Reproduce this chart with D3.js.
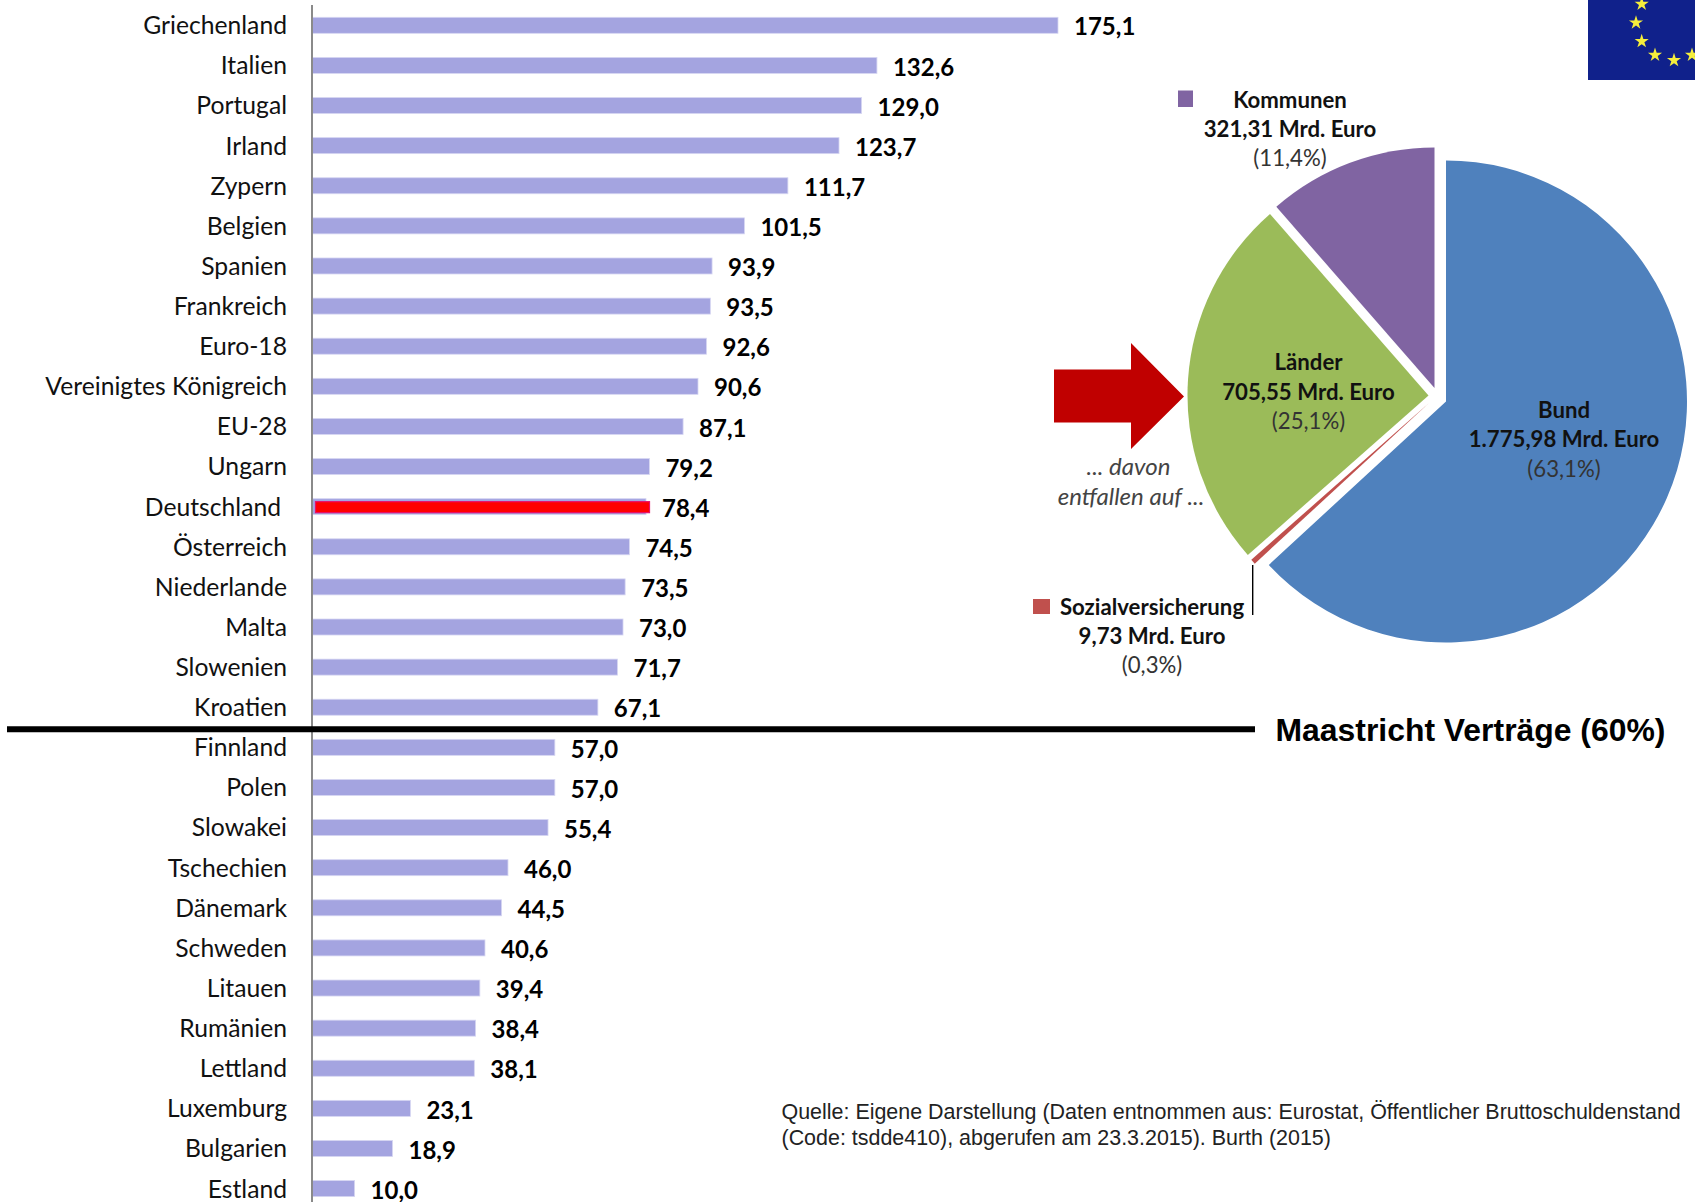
<!DOCTYPE html>
<html lang="de"><head><meta charset="utf-8">
<script src="https://cdn.jsdelivr.net/npm/d3@7"></script>
<style>html,body{margin:0;padding:0;background:#fff;overflow:hidden}svg{display:block}</style>
</head><body><div id="c"></div>
<script>
const countries=["Griechenland","Italien","Portugal","Irland","Zypern","Belgien","Spanien","Frankreich","Euro-18","Vereinigtes Königreich","EU-28","Ungarn","Deutschland","Österreich","Niederlande","Malta","Slowenien","Kroatien","Finnland","Polen","Slowakei","Tschechien","Dänemark","Schweden","Litauen","Rumänien","Lettland","Luxemburg","Bulgarien","Estland"];
const debt=[175.1,132.6,129.0,123.7,111.7,101.5,93.9,93.5,92.6,90.6,87.1,79.2,78.4,74.5,73.5,73.0,71.7,67.1,57.0,57.0,55.4,46.0,44.5,40.6,39.4,38.4,38.1,23.1,18.9,10.0];
const highlight="Deutschland";
const pieNames=["Bund","Sozialversicherung","Länder","Kommunen"];
const pieValues=[1775.98,9.73,705.55,321.31];
const pieColors=["#4f81bd","#c0504d","#9bbb59","#8064a2"];
const pieCentres=[[1446,401.5],[1429,403],[1428.5,395.5],[1434.5,388]];
const pieRadii=[241,237,241,240.5];
const maastricht="Maastricht Verträge (60%)";
const sourceLines=["Quelle: Eigene Darstellung (Daten entnommen aus: Eurostat, Öffentlicher Bruttoschuldenstand","(Code: tsdde410), abgerufen am 23.3.2015). Burth (2015)"];

const W=1695,H=1202;
const svg=d3.select("#c").append("svg").attr("width",W).attr("height",H).attr("viewBox",[0,0,W,H]);
const sans="Lato, Carlito, Calibri, sans-serif";
const x=d3.scaleLinear().domain([0,175.1]).range([312,1058]);
const y=d3.scalePoint().domain(countries).range([25.3,1188.6]);
const fmt=d3.formatLocale({decimal:",",thousands:".",grouping:[3],currency:["","€"]}).format(".1f");
const barH=16;

// Bars
svg.append("g").selectAll("rect").data(countries).join("rect")
  .attr("x",x(0)).attr("y",d=>y(d)-barH/2)
  .attr("width",(d,i)=>x(debt[i])-x(0)).attr("height",barH)
  .attr("fill","#a4a4e0").attr("stroke","#d6d6f2").attr("stroke-width",0.8);

// Highlight over Germany
const hi=countries.indexOf(highlight);
svg.append("rect").attr("x",x(0)+3.5).attr("y",y(highlight)-5)
  .attr("width",x(debt[hi])-x(0)).attr("height",11)
  .attr("fill","#ff0000").attr("stroke","#e8106a").attr("stroke-width",1.2);

// Category axis
const axis=svg.append("g").attr("transform",`translate(${x(0)},0)`)
  .call(d3.axisLeft(y).tickSize(0).tickPadding(25));
axis.select(".domain").remove();
axis.selectAll("text").attr("font-family",sans).attr("font-size",24.7).attr("fill","#111")
  .attr("dy","0.34em").attr("dx",d=>d===highlight?-6:0);
svg.append("line").attr("x1",x(0)).attr("x2",x(0)).attr("y1",5).attr("y2",H)
  .attr("stroke","#8a8a8a").attr("stroke-width",2);

// Value labels
svg.append("g").selectAll("text").data(countries).join("text")
  .attr("x",(d,i)=>x(debt[i])+16).attr("y",d=>y(d)+2).attr("dy","0.34em")
  .attr("font-family",sans).attr("font-weight",700).attr("font-size",24).attr("fill","#000")
  .text((d,i)=>fmt(debt[i]));

// Threshold line
svg.append("line").attr("x1",7).attr("x2",1255).attr("y1",729.3).attr("y2",729.3)
  .attr("stroke","#000").attr("stroke-width",6);
svg.append("text").attr("x",1275.5).attr("y",741)
  .attr("font-family","Liberation Sans, Arial, sans-serif").attr("font-weight",700).attr("font-size",31.9)
  .text(maastricht);

// Pie
const arcs=d3.pie().sort(null)(pieValues);
svg.append("g").selectAll("path").data(arcs).join("path")
  .attr("transform",(d,i)=>`translate(${pieCentres[i]})`)
  .attr("d",(d,i)=>d3.arc().innerRadius(0).outerRadius(pieRadii[i])(d))
  .attr("fill",(d,i)=>pieColors[i]);

// Pie labels
function block(lines,cx,ys){
  lines.forEach((t,i)=>{
    svg.append("text").attr("x",cx).attr("y",ys[i]).attr("dy","0.34em").attr("text-anchor","middle")
      .attr("font-family",sans).attr("font-size",22.2)
      .attr("font-weight",i<2?700:400).attr("fill",i<2?"#111":"#333").text(t);
  });
}
block(["Kommunen","321,31 Mrd. Euro","(11,4%)"],1290,[100,129,158.5]);
block(["Länder","705,55 Mrd. Euro","(25,1%)"],1308.5,[362,392,421]);
block(["Bund","1.775,98 Mrd. Euro","(63,1%)"],1564,[410,439,469]);
block(["Sozialversicherung","9,73 Mrd. Euro","(0,3%)"],1152,[607,636,665]);

// Legend swatches
svg.append("rect").attr("x",1178).attr("y",90.5).attr("width",15).attr("height",16.5).attr("fill",pieColors[3]);
svg.append("rect").attr("x",1033).attr("y",599).attr("width",17).attr("height",15).attr("fill",pieColors[1]);
svg.append("line").attr("x1",1252.7).attr("x2",1252.7).attr("y1",565).attr("y2",615).attr("stroke","#000").attr("stroke-width",1.4);

// Arrow
svg.append("path").attr("fill","#c00000")
  .attr("d",d3.line()([[1054,369.5],[1131,369.5],[1131,343],[1184,396.5],[1131,449],[1131,422.5],[1054,422.5]])+"Z");
[["... davon",1128.5,467],["entfallen auf ...",1131,497]].forEach(([t,cx,cy])=>{
  svg.append("text").attr("x",cx).attr("y",cy).attr("dy","0.34em").attr("text-anchor","middle")
    .attr("font-family",sans).attr("font-style","italic").attr("font-size",24).attr("fill","#444").text(t);
});

// EU flag corner
svg.append("rect").attr("x",1588).attr("y",0).attr("width",107).attr("height",80).attr("fill","#10218b");
const stars=[[1641.7,4],[1636,22.7],[1641.7,41.3],[1655,55],[1674,60.3],[1692,55]];
svg.append("g").selectAll("path").data(stars).join("path")
  .attr("transform",d=>`translate(${d})`)
  .attr("d",d3.symbol(d3.symbolStar,62)).attr("fill","#f5ee3c");

// Source
sourceLines.forEach((t,i)=>{
  svg.append("text").attr("x",781.5).attr("y",1119+i*26)
    .attr("font-family","Liberation Sans, Arial, sans-serif").attr("font-size",21.45).attr("fill","#222").text(t);
});
</script></body></html>
